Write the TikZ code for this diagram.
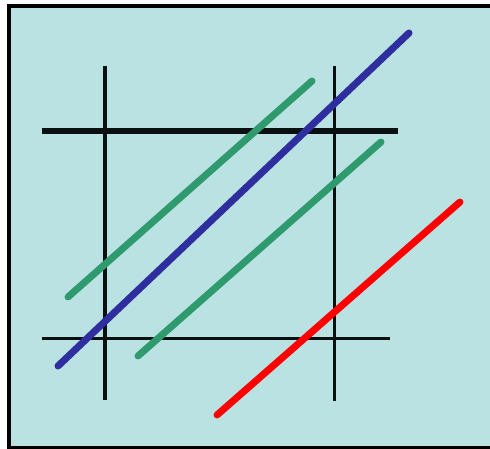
\documentclass[tikz,border=0pt]{standalone}
\definecolor{bgcyan}{HTML}{BAE2E2}
\definecolor{lineblue}{HTML}{2E2E9E}
\definecolor{linegreen}{HTML}{2E9A6E}
\definecolor{linered}{HTML}{FF0000}
\definecolor{gridblack}{HTML}{0A0F0F}
\begin{document}
\begin{tikzpicture}[x=1pt,y=-1pt,
  gridline/.style={draw=gridblack,line width=3.2pt},
  slant/.style={line width=7pt,line cap=round}]
\useasboundingbox (0,0) rectangle (490,449);
\fill[white] (0,0) rectangle (490,449);
\fill[bgcyan] (9,6) rectangle (495,452);
\draw[black,line width=4pt] (9,452) -- (9,6) -- (495,6);
\draw[black,line width=4pt] (9,447.5) -- (495,447.5);
% grid coordinates
\coordinate (v1t) at (105,66);
\coordinate (v1b) at (105,400);
\coordinate (v2t) at (334.5,66);
\coordinate (v2b) at (334.5,401);
\coordinate (h1l) at (42,131);
\coordinate (h1r) at (398,131);
\coordinate (h2l) at (42,338.5);
\coordinate (h2r) at (390,338.5);
\draw[gridline,line width=4pt] (v1t) -- (v1b);
\draw[gridline] (v2t) -- (v2b);
\draw[gridline,line width=5.5pt] (h1l) -- (h1r);
\draw[gridline,line width=3pt] (h2l) -- (h2r);
% slanted lines
\coordinate (g1a) at (68,297);
\coordinate (g1b) at (312,81);
\coordinate (ba) at (58,366);
\coordinate (bb) at (409,33);
\coordinate (g2a) at (138,356);
\coordinate (g2b) at (381,142);
\coordinate (ra) at (217,415);
\coordinate (rb) at (460,202);
\draw[slant,linegreen] (g1a) -- (g1b);
\draw[slant,lineblue] (ba) -- (bb);
\draw[slant,linegreen] (g2a) -- (g2b);
\draw[slant,linered] (ra) -- (rb);
\end{tikzpicture}
\end{document}
